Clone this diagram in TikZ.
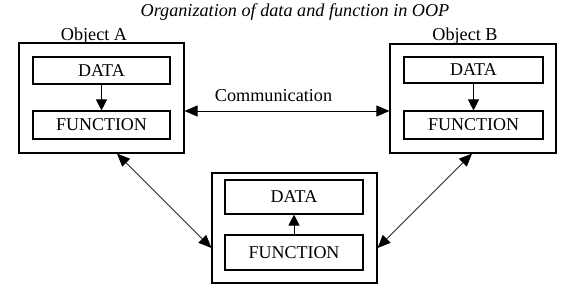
\documentclass[tikz,border=0pt]{standalone}
\usepackage{fontspec}
\setmainfont{Liberation Serif}
\usetikzlibrary{arrows.meta}
\begin{document}
\begin{tikzpicture}[x=1pt,y=-1pt,
  outer/.style={draw, line width=1.1pt, inner sep=0pt},
  inner/.style={draw, line width=1.1pt, inner sep=0pt, font=\fontsize{18}{20}\selectfont},
  lbl/.style={inner sep=0pt, anchor=base, font=\fontsize{18.2}{20}\selectfont},
  tip/.style={-{Triangle[length=11pt,width=11pt]}, line width=0.9pt},
  dtip/.style={{Triangle[length=13pt,width=11pt]}-{Triangle[length=13pt,width=11pt]}, line width=0.7pt}]
\useasboundingbox (0,0) rectangle (572,298);
\node[lbl, font=\fontsize{18.2}{20}\selectfont\itshape] (title) at (295,16.5) {Organization of data and function in OOP};
% Object A
\node[outer, minimum width=165pt, minimum height=110pt] (A) at (101.5,98) {};
\node[lbl] (Alab) at (94,40) {Object A};
\node[inner, minimum width=137pt, minimum height=27pt] (Ad) at (101.5,70.5) {DATA};
\node[inner, minimum width=137pt, minimum height=28pt] (Af) at (101.5,125) {FUNCTION};
\draw[tip] (Ad.south) -- (Af.north);
% Object B
\node[outer, minimum width=166pt, minimum height=109pt] (B) at (473,98.5) {};
\node[lbl] (Blab) at (465,40) {Object B};
\node[inner, minimum width=139pt, minimum height=26pt] (Bd) at (473.5,70) {DATA};
\node[inner, minimum width=139pt, minimum height=28pt] (Bf) at (473.5,125) {FUNCTION};
\draw[tip] (Bd.south) -- (Bf.north);
% Object C
\node[outer, minimum width=165pt, minimum height=110pt] (C) at (294.5,228) {};
\node[inner, minimum width=138pt, minimum height=34pt] (Cd) at (294,197) {DATA};
\node[inner, minimum width=138pt, minimum height=35pt] (Cf) at (294,252.5) {FUNCTION};
\draw[tip] (Cf.north) -- (Cd.south);
% connectors
\draw[dtip, line width=0.9pt] ([yshift=-13pt]A.east) -- ([yshift=-13pt]A.east -| B.west);
\node[lbl] (comm) at (273.5,101) {Communication};
\draw[dtip] ([xshift=15.5pt]A.south) -- ([yshift=-20pt]C.west);
\draw[dtip] ([xshift=-1pt]B.south) -- ([yshift=-20pt]C.east);
\end{tikzpicture}
\end{document}
